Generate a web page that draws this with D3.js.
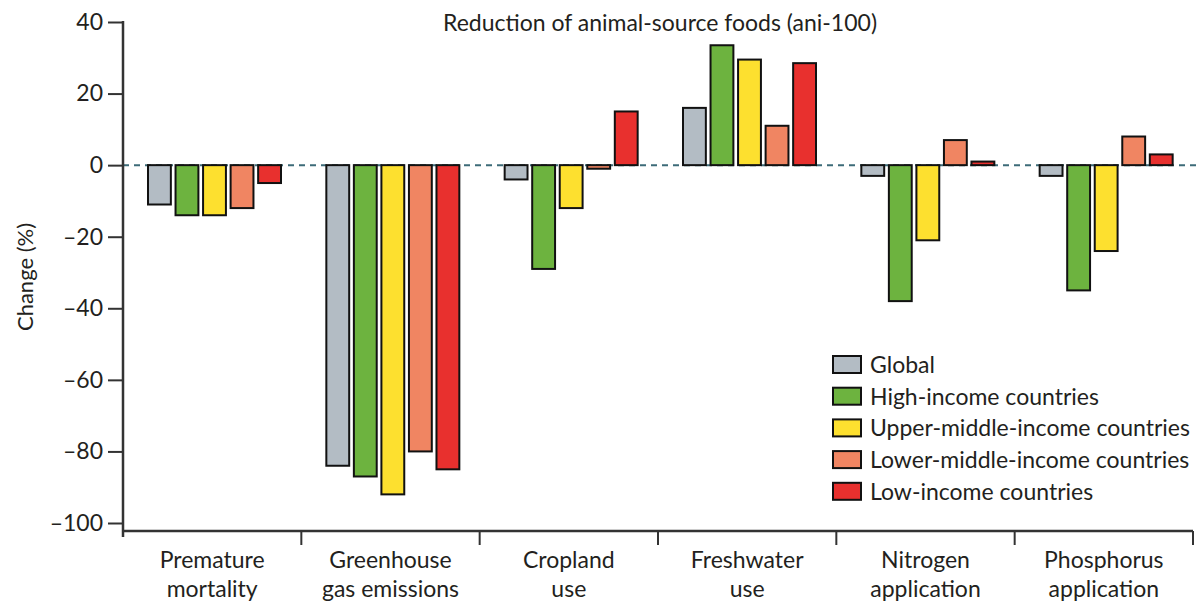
<!DOCTYPE html>
<html>
<head>
<meta charset="utf-8">
<script src="https://cdn.jsdelivr.net/npm/d3@7"></script>
<style>
  body { margin: 0; background: #fff; }
  text { font-family: Lato, "Open Sans", sans-serif; fill: #231f20; }
</style>
</head>
<body>
<div id="chart"></div>
<script>
// data
const categories = [
  ['Premature', 'mortality'],
  ['Greenhouse', 'gas emissions'],
  ['Cropland', 'use'],
  ['Freshwater', 'use'],
  ['Nitrogen', 'application'],
  ['Phosphorus', 'application']
];
const seriesNames = ['Global', 'High-income countries', 'Upper-middle-income countries',
  'Lower-middle-income countries', 'Low-income countries'];
const globalVals = [-11, -84, -4, 16, -3, -3];
const highVals = [-14, -87, -29, 33.5, -38, -35];
const upperMidVals = [-14, -92, -12, 29.5, -21, -24];
const lowerMidVals = [-12, -80, -1, 11, 7, 8];
const lowVals = [-5, -85, 15, 28.5, 1, 3];
const yTicks = [40, 20, 0, -20, -40, -60, -80, -100];
const colors = ['#b3bcc4', '#6db33f', '#fde02f', '#f08562', '#e8302e'];

const width = 1196, height = 608;
const allVals = [globalVals, highVals, upperMidVals, lowerMidVals, lowVals];

const svg = d3.select('#chart').append('svg')
  .attr('width', width)
  .attr('height', height);

const catKeys = categories.map(d => d.join(' '));
const x0 = d3.scaleBand().domain(catKeys).range([123, 1193]);
const x1 = d3.scaleBand().domain(seriesNames).range([25, 158]).paddingInner(0.17);
const y = d3.scaleLinear().domain([-100, 40]).range([523, 22]);

// zero reference line
svg.append('line')
  .attr('x1', 123).attr('x2', width)
  .attr('y1', y(0)).attr('y2', y(0))
  .attr('stroke', '#3d6b78')
  .attr('stroke-width', 2)
  .attr('stroke-dasharray', '6,5');

// bars
const groups = svg.selectAll('g.group')
  .data(catKeys)
  .enter().append('g')
  .attr('class', 'group')
  .attr('transform', d => `translate(${x0(d)},0)`);

groups.selectAll('rect')
  .data((d, i) => seriesNames.map((s, j) => ({ s: s, j: j, v: allVals[j][i] })))
  .enter().append('rect')
  .attr('x', d => x1(d.s))
  .attr('width', x1.bandwidth())
  .attr('y', d => Math.min(y(d.v), y(0)))
  .attr('height', d => Math.abs(y(d.v) - y(0)))
  .attr('fill', d => colors[d.j])
  .attr('stroke', '#111')
  .attr('stroke-width', 2);

// y axis
const yAxis = svg.append('g')
  .attr('transform', 'translate(123,0)')
  .call(d3.axisLeft(y).tickValues(yTicks).tickSize(15).tickPadding(5)
    .tickFormat(d => d < 0 ? '\u2013' + Math.abs(d) : d));
yAxis.select('.domain').remove();
yAxis.selectAll('.tick line').attr('stroke', '#333').attr('stroke-width', 2);
yAxis.selectAll('.tick text').style('font-size', '23px').attr('fill', '#231f20');
svg.append('line')
  .attr('x1', 123).attr('x2', 123)
  .attr('y1', y(40) - 1).attr('y2', 537)
  .attr('stroke', '#333').attr('stroke-width', 2.5);

// x axis
const axisY = 531;
const xAxis = svg.append('g')
  .attr('transform', `translate(0,${axisY})`);
xAxis.append('line')
  .attr('x1', 123).attr('x2', 1193)
  .attr('stroke', '#333').attr('stroke-width', 2.5);
xAxis.selectAll('line.sep')
  .data(catKeys)
  .enter().append('line')
  .attr('class', 'sep')
  .attr('x1', d => x0(d) + x0.bandwidth()).attr('x2', d => x0(d) + x0.bandwidth())
  .attr('y1', 0).attr('y2', 14)
  .attr('stroke', '#333').attr('stroke-width', 2);

const xLabels = xAxis.selectAll('text.cat')
  .data(categories)
  .enter().append('text')
  .attr('class', 'cat')
  .attr('text-anchor', 'middle')
  .attr('transform', (d, i) => `translate(${x0(catKeys[i]) + x0.bandwidth() / 2},0)`)
  .style('font-size', '23px');
xLabels.append('tspan').attr('x', 0).attr('y', 37).text(d => d[0]);
xLabels.append('tspan').attr('x', 0).attr('y', 66).text(d => d[1]);

// axis title
svg.append('text')
  .attr('transform', 'translate(33,277) rotate(-90)')
  .attr('text-anchor', 'middle')
  .style('font-size', '22px')
  .text('Change (%)');

// chart title
svg.append('text')
  .attr('x', 660).attr('y', 31)
  .attr('text-anchor', 'middle')
  .style('font-size', '23px')
  .text('Reduction of animal-source foods (ani-100)');

// legend
const legend = svg.selectAll('g.legend')
  .data(seriesNames)
  .enter().append('g')
  .attr('class', 'legend')
  .attr('transform', (d, i) => `translate(833,${356 + i * 31.7})`);
legend.append('rect')
  .attr('width', 28).attr('height', 17)
  .attr('fill', (d, i) => colors[i])
  .attr('stroke', '#111').attr('stroke-width', 2);
legend.append('text')
  .attr('x', 37).attr('y', 9)
  .attr('dy', '0.35em')
  .style('font-size', '23px')
  .text(d => d);
</script>
</body>
</html>
